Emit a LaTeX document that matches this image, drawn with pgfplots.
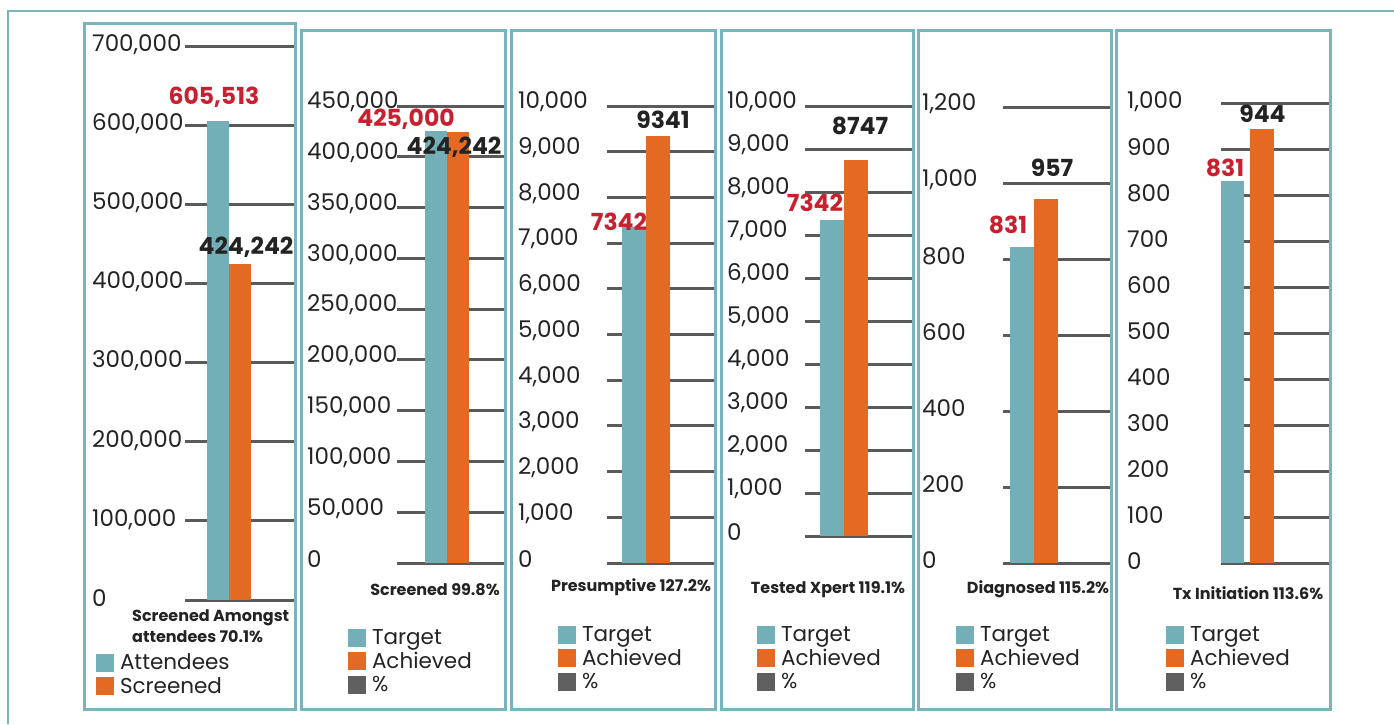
\documentclass[border=0pt]{standalone}
\usepackage{pgfplots}
\pgfplotsset{compat=1.18}
\usepackage{fontspec}
\setmainfont{Poppins}
\definecolor{tealbar}{RGB}{114,175,183}
\definecolor{orangebar}{RGB}{228,106,36}
\definecolor{redlab}{RGB}{200,32,47}
\definecolor{gridgray}{RGB}{90,90,90}
\definecolor{pctgray}{RGB}{95,95,95}
\definecolor{frameteal}{RGB}{121,180,188}
\definecolor{txt}{RGB}{35,35,35}
\newcommand\ticfont{\fontsize{23}{25}\selectfont}
\newcommand\legfont{\fontsize{21.5}{23}\selectfont}
\newcommand\barfont{\fontsize{23.5}{25}\selectfont\bfseries}
\newcommand\titfont{\fontsize{16}{21}\selectfont\bfseries}
\pgfplotsset{
  panel/.style={
    scale only axis, anchor=south west,
    axis line style={draw=none}, major tick length=0pt,
    xtick=\empty, ymin=0, ymajorgrids,
    grid style={gridgray, line width=3pt},
    scaled y ticks=false,
    /pgf/number format/fixed, /pgf/number format/1000 sep={,},
    /pgf/number format/assume math mode=true,
    yticklabel style={anchor=west, inner sep=0pt, font=\ticfont, text=txt},
    legend cell align=left,
    legend image code/.code={\fill[##1] (0pt,-8pt) rectangle (18pt,10pt);},
    legend style={draw=none, fill=none, inner sep=0pt, outer sep=0pt,
      anchor=north west, at={(0,0)}, font=\legfont, text=txt, row sep=1.5pt,
      nodes={inner sep=0pt, text height=17pt, text depth=5pt},
      /tikz/every odd column/.append style={column sep=6pt}},
  },
  tbar/.style={ybar, bar shift=0pt, fill=tealbar, draw=none},
  obar/.style={ybar, bar shift=0pt, fill=orangebar, draw=none},
}
\begin{document}
\begin{tikzpicture}[x=1pt,y=1pt]
\useasboundingbox (0pt,0pt) rectangle (1394pt,-724pt);
% Panel 1
\begin{axis}[panel, at={(185pt,-600pt)}, width=110pt, height=554pt,
  xmin=185, xmax=295, ymax=700000,
  ytick={0,100000,200000,300000,400000,500000,600000,700000},
  yticklabel style={xshift=-93pt, yshift=1.5pt},
  legend style={xshift=-89pt, yshift=-52.5pt}]
\addplot[tbar, bar width=22pt] coordinates {(218,605513)};
\addlegendentry{Attendees}
\addplot[obar, bar width=22pt] coordinates {(240,424242)};
\addlegendentry{Screened}
\end{axis}
% Panel 2
\begin{axis}[panel, at={(397pt,-563pt)}, width=108pt, height=457pt,
  xmin=397, xmax=505, ymax=450000,
  ytick={0,50000,100000,150000,200000,250000,300000,350000,400000,450000},
  yticklabel style={xshift=-90pt, yshift=4pt},
  legend style={xshift=-49pt, yshift=-64.5pt}]
\addplot[tbar, bar width=22pt] coordinates {(436,425000)};
\addlegendentry{Target}
\addplot[obar, bar width=22pt] coordinates {(458,424242)};
\addlegendentry{Achieved}
\addlegendimage{fill=pctgray, draw=none}
\addlegendentry{\%}
\end{axis}
% Panel 3
\begin{axis}[panel, at={(607pt,-563pt)}, width=108pt, height=457pt,
  xmin=607, xmax=715, ymax=10000,
  ytick={0,1000,2000,3000,4000,5000,6000,7000,8000,9000,10000},
  yticklabel style={xshift=-89pt, yshift=4pt},
  legend style={xshift=-49pt, yshift=-61.5pt}]
\addplot[tbar, bar width=24pt] coordinates {(634,7342)};
\addlegendentry{Target}
\addplot[obar, bar width=24pt] coordinates {(658,9341)};
\addlegendentry{Achieved}
\addlegendimage{fill=pctgray, draw=none}
\addlegendentry{\%}
\end{axis}
% Panel 4
\begin{axis}[panel, at={(805pt,-536pt)}, width=108pt, height=430pt,
  xmin=805, xmax=913, ymax=10000,
  ytick={0,1000,2000,3000,4000,5000,6000,7000,8000,9000,10000},
  yticklabel style={xshift=-78pt, yshift=4pt},
  legend style={xshift=-48pt, yshift=-88.5pt}]
\addplot[tbar, bar width=24pt] coordinates {(832,7342)};
\addlegendentry{Target}
\addplot[obar, bar width=24pt] coordinates {(856,8747)};
\addlegendentry{Achieved}
\addlegendimage{fill=pctgray, draw=none}
\addlegendentry{\%}
\end{axis}
% Panel 5
\begin{axis}[panel, at={(1003pt,-563pt)}, width=109pt, height=456pt,
  xmin=1003, xmax=1112, ymax=1200,
  ytick={0,200,400,600,800,1000,1200},
  yticklabel style={xshift=-81pt, yshift=3pt},
  legend style={xshift=-47pt, yshift=-61.5pt}]
\addplot[tbar, bar width=24pt] coordinates {(1021.5,831)};
\addlegendentry{Target}
\addplot[obar, bar width=24pt] coordinates {(1046,957)};
\addlegendentry{Achieved}
\addlegendimage{fill=pctgray, draw=none}
\addlegendentry{\%}
\end{axis}
% Panel 6
\begin{axis}[panel, at={(1221pt,-563pt)}, width=109pt, height=460pt,
  xmin=1221, xmax=1330, ymax=1000,
  ytick={0,100,200,300,400,500,600,700,800,900,1000},
  yticklabel style={xshift=-94pt, yshift=1.5pt},
  legend style={xshift=-55pt, yshift=-61.5pt}]
\addplot[tbar, bar width=24pt] coordinates {(1232,831)};
\addlegendentry{Target}
\addplot[obar, bar width=24pt] coordinates {(1262,944)};
\addlegendentry{Achieved}
\addlegendimage{fill=pctgray, draw=none}
\addlegendentry{\%}
\end{axis}
% value labels
\node[font=\barfont, text=redlab] at (214,-97) {605,513};
\node[font=\barfont, text=txt] at (246,-247) {424,242};
\node[font=\barfont, text=redlab] at (406,-119) {425,000};
\node[font=\barfont, text=txt] at (454,-147) {424,242};
\node[font=\barfont, text=redlab] at (619,-222) {7342};
\node[font=\barfont, text=txt] at (663,-120) {9341};
\node[font=\barfont, text=redlab] at (815,-203) {7342};
\node[font=\barfont, text=txt] at (860,-126) {8747};
\node[font=\barfont, text=redlab] at (1008,-225) {831};
\node[font=\barfont, text=txt] at (1052,-168) {957};
\node[font=\barfont, text=redlab] at (1225,-168) {831};
\node[font=\barfont, text=txt] at (1262.5,-114) {944};
% titles
\node[font=\titfont, text=txt, anchor=west, align=left, inner sep=0pt] at (132,-626) {Screened Amongst\\attendees 70.1\%};
\node[font=\titfont, text=txt] at (435,-590) {Screened 99.8\%};
\node[font=\titfont, text=txt] at (631,-587) {Presumptive 127.2\%};
\node[font=\titfont, text=txt] at (828,-590) {Tested Xpert 119.1\%};
\node[font=\titfont, text=txt] at (1038,-589) {Diagnosed 115.2\%};
\node[font=\titfont, text=txt] at (1248,-593) {Tx Initiation 113.6\%};
% frames
\draw[frameteal, line width=2pt] (8,-724) -- (8,-11) -- (1394,-11);
\begin{scope}[frameteal, line width=3pt]
\draw (84,-23) rectangle (295,-709);
\draw (301,-30) rectangle (505,-709);
\draw (511,-30) rectangle (715,-709);
\draw (721,-30) rectangle (913,-709);
\draw (918,-30) rectangle (1111,-709);
\draw (1116,-30) rectangle (1330,-709);
\end{scope}
\end{tikzpicture}
\end{document}
